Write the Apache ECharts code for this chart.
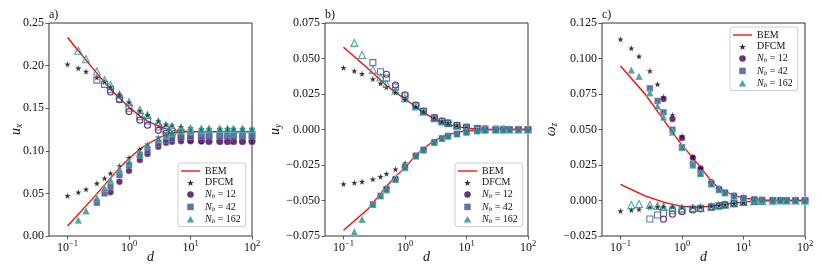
<!DOCTYPE html>
<html><head><meta charset="utf-8">
<script src="https://cdn.jsdelivr.net/npm/echarts@6/dist/echarts.min.js"></script>
<style>html,body{margin:0;padding:0;background:#fff}#c{width:822px;height:274px}</style>
</head><body><div id="c"></div>
<script>
// ---------- data ----------
const D = [0.1,0.15,0.2,0.3,0.4,0.5,0.7,1,1.5,2,3,4,5,7,10,15,20,30,40,50,70,100];
const bemD = [0.1,0.25,0.5,0.7,1,1.5,2,3,4,5,7,10,15,20,30,50,100];
const xTicks = [0.1,1,10,100];

// panel a : u_x
const aBemUp = [0.233,0.198,0.172,0.162,0.151,0.141,0.135,0.129,0.126,0.124,0.123,0.1225,0.1225,0.1225,0.1225,0.1225,0.1225];
const aBemLo = [0.0117,0.043,0.068,0.080,0.091,0.102,0.108,0.115,0.119,0.121,0.122,0.1225,0.1225,0.1225,0.1225,0.1225,0.1225];
const aDfcmUp = [0.2015,0.197,0.193,0.186,0.181,0.175,0.166,0.157,0.147,0.142,0.135,0.131,0.130,0.128,0.127,0.126,0.126,0.126,0.126,0.126,0.126,0.126];
const aDfcmLo = [0.0473,0.0513,0.0548,0.0618,0.0677,0.0736,0.0822,0.0919,0.1017,0.1076,0.1158,0.1197,0.1213,0.1235,0.125,0.1255,0.126,0.126,0.126,0.126,0.126,0.126];
const aN12Up = [null,null,null,null,null,0.169,0.160,0.146,0.136,0.130,0.124,0.1205,0.118,0.115,0.113,0.112,0.111,0.111,0.111,0.111,0.111,0.111];
const aN12Lo = [null,null,null,null,null,0.0513,0.0637,0.0767,0.0892,0.0962,0.1048,0.1095,0.1107,0.1112,0.1112,0.111,0.111,0.111,0.111,0.111,0.111,0.111];
const aN42Up = [null,null,null,0.183,0.178,0.172,0.161,0.150,0.140,0.135,0.128,0.125,0.123,0.121,0.119,0.118,0.1175,0.1175,0.1175,0.1175,0.1175,0.1175];
const aN42Lo = [null,null,null,0.039,0.050,0.0579,0.0716,0.0833,0.095,0.101,0.1088,0.1127,0.1147,0.116,0.117,0.1175,0.1175,0.1175,0.1175,0.1175,0.1175,0.1175];
const aN162Up = [null,0.2175,0.2074,0.193,0.183,0.177,0.166,0.157,0.148,0.142,0.134,0.130,0.128,0.127,0.126,0.1255,0.1255,0.1255,0.1255,0.1255,0.1255,0.1255];
const aN162Lo = [null,0.0188,0.0297,0.045,0.0567,0.0657,0.0783,0.0872,0.097,0.1068,0.1147,0.119,0.121,0.123,0.124,0.125,0.1255,0.1255,0.1255,0.1255,0.1255,0.1255];

// panel b : u_y
const bBemUp = [0.058,0.043,0.031,0.026,0.0215,0.016,0.012,0.0075,0.005,0.0035,0.002,0.001,0.0004,0.0002,0.0001,0,0];
const bBemLo = [-0.071,-0.056,-0.040,-0.033,-0.027,-0.018,-0.0135,-0.0078,-0.0052,-0.0037,-0.002,-0.001,-0.0004,-0.0002,-0.0001,0,0];
const bDfcmUp = [0.0435,0.0412,0.0392,0.0356,0.0325,0.0297,0.026,0.021,0.0158,0.0128,0.0085,0.006,0.0048,0.003,0.0016,0.0007,0.0004,0.0002,0.0001,0.0001,0,0];
const bDfcmLo = [-0.0384,-0.0375,-0.0367,-0.0351,-0.0332,-0.0312,-0.028,-0.0238,-0.018,-0.014,-0.0093,-0.0062,-0.0046,-0.0032,-0.0018,-0.0008,-0.0005,-0.0002,-0.0001,-0.0001,0,0];
const bN12Up = [null,null,null,null,null,0.0389,0.0313,0.0245,0.0172,0.013,0.0084,0.006,0.0046,0.0029,0.0015,0.0006,0.0003,0.0001,0.0001,0,0,0];
const bN12Lo = [null,null,null,null,null,-0.0418,-0.0348,-0.0264,-0.0184,-0.0142,-0.009,-0.0062,-0.0046,-0.003,-0.0018,-0.0008,-0.0004,-0.0002,-0.0001,0,0,0];
const bN42Up = [null,null,null,0.0471,0.0407,0.0362,0.0300,0.0236,0.0168,0.0128,0.0082,0.0058,0.0045,0.0028,0.0015,0.0006,0.0003,0.0001,0.0001,0,0,0];
const bN42Lo = [null,null,null,-0.0527,-0.0466,-0.042,-0.035,-0.0265,-0.0185,-0.0143,-0.009,-0.0062,-0.0046,-0.003,-0.0018,-0.0008,-0.0004,-0.0002,-0.0001,0,0,0];
const bN162Up = [null,0.061,0.0525,0.042,0.0368,0.032,0.0275,0.022,0.0162,0.0125,0.008,0.0057,0.0044,0.0027,0.0014,0.0006,0.0003,0.0001,0.0001,0,0,0];
const bN162Lo = [null,-0.072,-0.0632,-0.0527,-0.0466,-0.0424,-0.035,-0.0268,-0.0187,-0.0144,-0.009,-0.0062,-0.0046,-0.003,-0.0018,-0.0008,-0.0004,-0.0002,-0.0001,0,0,0];

// panel c : omega_z
const cBemUp = [0.0947,0.075,0.057,0.048,0.039,0.030,0.0235,0.0135,0.009,0.0065,0.0035,0.0018,0.0007,0.0004,0.0001,0,0];
const cBemLo = [0.0114,0.0032,-0.0012,-0.0028,-0.004,-0.0046,-0.0047,-0.004,-0.0033,-0.0027,-0.0018,-0.0011,-0.0005,-0.0003,-0.0001,0,0];
const cDfcmUp = [0.1135,0.1072,0.1015,0.0912,0.0819,0.0731,0.0602,0.0455,0.0309,0.0227,0.0133,0.0086,0.0062,0.0039,0.0027,0.0015,0.001,0.0005,0.0003,0.0002,0.0001,0];
const cDfcmLo = [-0.0074,-0.0067,-0.0062,-0.0048,-0.0044,-0.0044,-0.0044,-0.0044,-0.0045,-0.0045,-0.004,-0.0035,-0.003,-0.002,-0.0012,-0.0006,-0.0003,-0.0001,0,0,0,0];
const cN12Up = [null,null,null,null,null,0.0715,0.0574,0.044,0.0301,0.0225,0.0128,0.0082,0.0058,0.0034,0.0018,0.0008,0.0004,0.0002,0.0001,0,0,0];
const cN12Lo = [null,null,null,null,null,-0.0132,-0.0097,-0.0079,-0.0067,-0.006,-0.0048,-0.0038,-0.0031,-0.002,-0.0011,-0.0005,-0.0003,-0.0001,0,0,0,0];
const cN42Up = [null,null,null,0.079,0.0701,0.0621,0.0499,0.0375,0.0257,0.0191,0.0118,0.0078,0.0055,0.0032,0.0017,0.0008,0.0004,0.0002,0.0001,0,0,0];
const cN42Lo = [null,null,null,-0.013,-0.0102,-0.009,-0.0072,-0.0067,-0.006,-0.0055,-0.0045,-0.0037,-0.003,-0.002,-0.0011,-0.0005,-0.0003,-0.0001,0,0,0,0];
const cN162Up = [null,0.0919,0.0875,0.0759,0.0666,0.0588,0.0482,0.0375,0.025,0.019,0.0118,0.0078,0.0055,0.0032,0.0017,0.0008,0.0004,0.0002,0.0001,0,0,0];
const cN162Lo = [null,-0.0032,-0.0025,-0.0032,-0.0039,-0.0044,-0.0048,-0.0055,-0.0052,-0.005,-0.0044,-0.0035,-0.003,-0.002,-0.0011,-0.0005,-0.0003,-0.0001,0,0,0,0];

const panelLetters = ['a)','b)','c)'];
const legendNames = ['BEM','DFCM','N12','N42','N162'];

// ---------- styling / build ----------
const FONT = 'Liberation Serif';
const COL = {N12:'#440154', N42:'#3b528b', N162:'#21918c'};
const SYM = {N12:'circle', N42:'rect', N162:'triangle'};
const SIZE = {N12:6.5, N42:6.5, N162:7.5};
const STAR = 'path://M0,-10L2.35,-3.24L9.51,-3.09L3.8,1.24L5.88,8.09L0,4L-5.88,8.09L-3.8,1.24L-9.51,-3.09L-2.35,-3.24Z';
const ICON = {
  BEM:'path://M0,0L20,0L20,1.4L0,1.4Z',
  DFCM:STAR,
  N12:'circle',
  N42:'path://M0,0L10,0L10,10L0,10Z',
  N162:'path://M5,0L10,8.7L0,8.7Z'
};

function pairs(xs, ys){ const out=[]; ys.forEach((v,i)=>{ if(v!==null) out.push([xs[i], v]); }); return out; }

const panels = [
  {left:49, min:0, max:0.25, step:0.05, dec:2, yname:'{i|u}{s|x}', gap:25,
   bem:[aBemUp,aBemLo], dfcm:[aDfcmUp,aDfcmLo],
   N12:[aN12Up,aN12Lo], N42:[aN42Up,aN42Lo], N162:[aN162Up,aN162Lo], hollow:0,
   legend:{left:178, top:163}},
  {left:325, min:-0.075, max:0.075, step:0.025, dec:3, yname:'{i|u}{s|y}', gap:42,
   bem:[bBemUp,bBemLo], dfcm:[bDfcmUp,bDfcmLo],
   N12:[bN12Up,bN12Lo], N42:[bN42Up,bN42Lo], N162:[bN162Up,bN162Lo], hollow:0,
   legend:{left:455, top:163}},
  {left:602, min:-0.025, max:0.125, step:0.025, dec:3, yname:'{i|ω}{s|z}', gap:43,
   bem:[cBemUp,cBemLo], dfcm:[cDfcmUp,cDfcmLo],
   N12:[cN12Up,cN12Lo], N42:[cN42Up,cN42Lo], N162:[cN162Up,cN162Lo], hollow:1,
   legend:{left:730, top:27}}
];

const grid=[], xAxis=[], yAxis=[], series=[], title=[], legend=[];

panels.forEach((p, k) => {
  grid.push({left:p.left, top:23, width:203, height:213, outerBoundsMode:'none', containLabel:false,
    show:true, borderColor:'#333', borderWidth:1, backgroundColor:'transparent'});
  title.push({text:panelLetters[k], left:p.left, top:9, padding:0, textStyle:{fontFamily:FONT, fontSize:12, fontWeight:'normal', color:'#111'}});
  xAxis.push({type:'log', logBase:10, min:0.05, max:100, gridIndex:k,
    name:'d', nameLocation:'middle', nameGap:14, nameMoveOverlap:false,
    nameTextStyle:{fontFamily:FONT, fontSize:14, fontStyle:'italic', color:'#111', verticalAlign:'top'},
    axisLine:{show:false, onZero:false}, splitLine:{show:false},
    axisTick:{show:true, inside:false, length:3.5, customValues:xTicks, lineStyle:{color:'#333', width:0.8}},
    axisLabel:{margin:3, customValues:xTicks,
      formatter:(v)=>{ const e=Math.log10(v), r=Math.round(e); if(Math.abs(e-r)>1e-6) return ''; return '{b|10}{s|'+(r<0?'−'+(-r):r)+'}'; },
      rich:{ b:{fontFamily:FONT, fontSize:12, color:'#111', verticalAlign:'bottom', lineHeight:15},
             s:{fontFamily:FONT, fontSize:8.5, color:'#111', verticalAlign:'top', lineHeight:9} }}
  });
  yAxis.push({type:'value', min:p.min, max:p.max, interval:p.step, gridIndex:k,
    name:p.yname, nameLocation:'middle', nameGap:p.gap, nameRotate:90, nameMoveOverlap:false,
    nameTextStyle:{rich:{ i:{fontFamily:FONT, fontSize:14, fontStyle:'italic', color:'#111', lineHeight:16},
                          s:{fontFamily:FONT, fontSize:9.5, fontStyle:'italic', color:'#111', verticalAlign:'bottom', lineHeight:8} }},
    axisLine:{show:false, onZero:false}, splitLine:{show:false},
    axisTick:{show:true, inside:false, length:3.5, lineStyle:{color:'#333', width:0.8}},
    axisLabel:{margin:5, fontFamily:FONT, fontSize:12, color:'#111',
      formatter:(v)=>{ if(Math.abs(v)<1e-9) v=0; return v.toFixed(p.dec).replace('-','−'); }}
  });
  p.bem.forEach(arr => series.push({type:'line', name:'BEM', xAxisIndex:k, yAxisIndex:k,
    data:pairs(bemD, arr), symbol:'none', showSymbol:false, smooth:false,
    lineStyle:{color:'#ff0000', width:1.3}, itemStyle:{color:'#ff0000'}, z:2, silent:true}));
  p.dfcm.forEach(arr => series.push({type:'scatter', name:'DFCM', xAxisIndex:k, yAxisIndex:k,
    data:pairs(D, arr), symbol:STAR, symbolSize:6.5,
    itemStyle:{color:'#000', borderColor:'rgba(255,255,255,0.6)', borderWidth:0.4}, z:3, silent:true}));
  ['N12','N42','N162'].forEach(key => {
    [0,1].forEach(br => {
      const hollow = (br === p.hollow);
      series.push({type:'scatter', name: hollow ? key+'o' : key, xAxisIndex:k, yAxisIndex:k,
        data:pairs(D, p[key][br]), symbol:SYM[key], symbolSize: hollow ? SIZE[key]-0.5 : SIZE[key],
        itemStyle: hollow ? {color:'rgba(0,0,0,0)', borderColor:COL[key], borderWidth:1.1}
                          : {color:COL[key], borderColor:'rgba(255,255,255,0.6)', borderWidth:0.5},
        z: hollow ? 4 : 5, silent:true});
    });
  });
  legend.push({orient:'vertical', left:p.legend.left, top:p.legend.top,
    data: legendNames.map(n => ({name:n, icon:ICON[n],
      itemStyle: n==='BEM' ? {color:'#ff0000', borderWidth:0} : (n==='DFCM' ? {color:'#000', borderWidth:0} : {color:COL[n], borderWidth:0})})),
    itemWidth:19, itemHeight:6.5, itemGap:1.8, symbolKeepAspect:true,
    padding:[3,5,2,3], backgroundColor:'rgba(255,255,255,0.85)', borderColor:'#ccc', borderWidth:1, borderRadius:3,
    selectedMode:false,
    formatter:(n)=>{ if(n==='BEM'||n==='DFCM') return '{t|'+n+'}'; return '{i|N}{sb|b}{t| = '+n.slice(1)+'}'; },
    textStyle:{fontFamily:FONT, fontSize:10, color:'#111',
      rich:{ t:{fontFamily:FONT, fontSize:10, color:'#111', lineHeight:11},
             i:{fontFamily:FONT, fontSize:10, fontStyle:'italic', color:'#111', lineHeight:11},
             sb:{fontFamily:FONT, fontSize:7, fontStyle:'italic', color:'#111', verticalAlign:'bottom', lineHeight:7} }}
  });
});

const chart = echarts.init(document.getElementById('c'), null, {renderer:'canvas'});
chart.setOption({animation:false, backgroundColor:'#fff', title, grid, xAxis, yAxis, legend, series});
</script>
</body></html>
